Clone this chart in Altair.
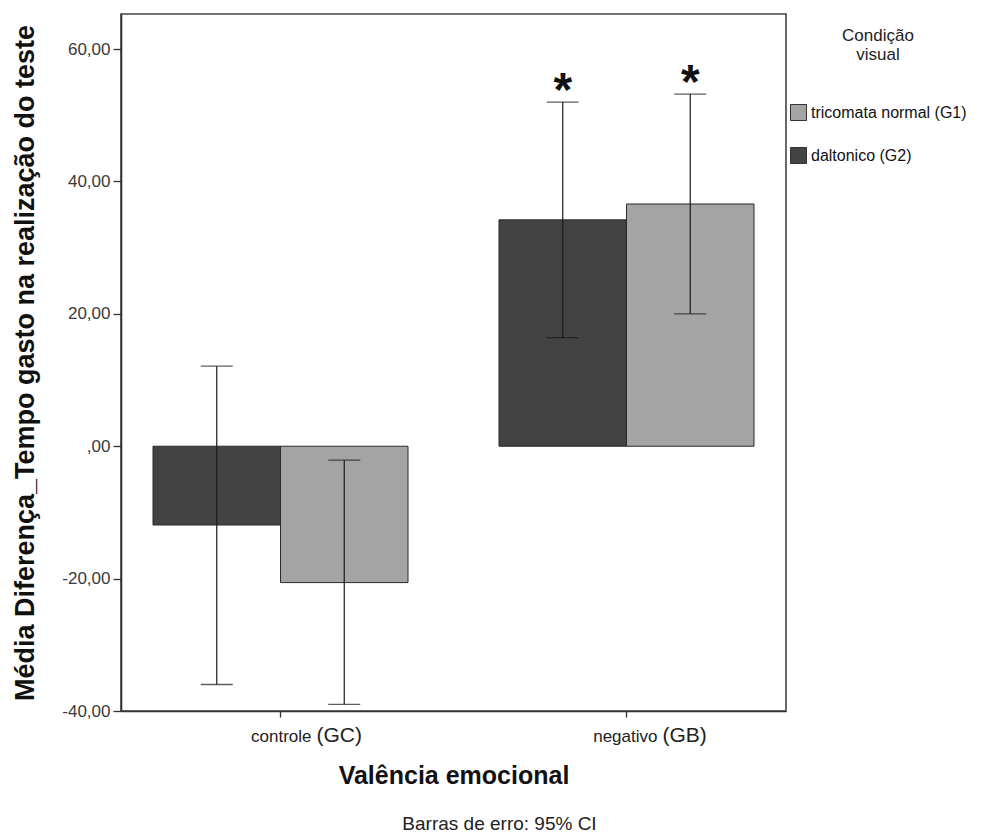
import altair as alt
import pandas as pd

# ---- data ----
valencia = ["controle", "controle", "negativo", "negativo"]
grupo = ["daltonico (G2)", "tricomata normal (G1)", "daltonico (G2)", "tricomata normal (G1)"]
media = [-11.9, -20.6, 34.2, 36.6]
ic_inf = [-36.0, -39.0, 16.4, 20.0]
ic_sup = [12.1, -2.1, 52.0, 53.2]
signif = ["", "", "*", "*"]

categorias = ["controle", "negativo"]
rotulos = ["controle", "negativo"]
codigos = ["(GC)", "(GB)"]

ordem_barras = ["daltonico (G2)", "tricomata normal (G1)"]
ordem_legenda = ["tricomata normal (G1)", "daltonico (G2)"]
cores_legenda = ["#a4a4a4", "#434343"]

y_ticks = [-40, -20, 0, 20, 40, 60]
y_dominio = [-40, 65.3]

df = pd.DataFrame(dict(valencia=valencia, grupo=grupo, media=media,
                       ic_inf=ic_inf, ic_sup=ic_sup, signif=signif))
rot = pd.DataFrame(dict(valencia=categorias, rotulo=rotulos, codigo=codigos))

W, H = 665, 697
FONT = "Liberation Sans"
YTITLE = "Média Diferença_Tempo gasto na realização do teste"
LABEL_EXPR = ("datum.value == 0 ? ',00' : "
              "replace(replace(format(datum.value, '.2f'), '.', ','), '\u2212', '-')")


def xenc():
    return alt.X(
        "valencia:N", sort=categorias,
        scale=alt.Scale(domain=categorias, paddingInner=0.263, paddingOuter=0.0925),
        axis=alt.Axis(title="Valência emocional", labels=False, ticks=True, tickSize=6,
                      tickColor="#333", tickWidth=1.3, domainColor="#333", domainWidth=1.6,
                      titleFontSize=25, titleFontWeight="bold", titleColor="#111",
                      titleY=72, titleBaseline="alphabetic"))


def xoenc():
    return alt.XOffset("grupo:N", sort=ordem_barras,
                       scale=alt.Scale(domain=ordem_barras, paddingInner=0, paddingOuter=0))


def yenc(field):
    return alt.Y(
        f"{field}:Q",
        scale=alt.Scale(domain=y_dominio, nice=False, zero=False),
        axis=alt.Axis(values=y_ticks, title=YTITLE, grid=False, tickSize=8,
                      tickColor="#333", tickWidth=1.3, domainColor="#333", domainWidth=1.6,
                      labelExpr=LABEL_EXPR,
                      labelFontSize=17, labelColor="#3a3a3a", labelPadding=3,
                      titleFontSize=27, titleFontWeight="bold", titleColor="#111",
                      titleX=-88, titleBaseline="alphabetic"))


barras = alt.Chart(df).mark_bar(stroke="#2a2a2a", strokeWidth=1).encode(
    x=xenc(), xOffset=xoenc(), y=yenc("media"), y2=alt.datum(0),
    color=alt.Color("grupo:N", scale=alt.Scale(domain=ordem_legenda, range=cores_legenda),
                    legend=alt.Legend(title=["Condição", "visual"], orient="none",
                                      legendX=669, legendY=14, padding=0,
                                      titleFontSize=17, titleFontWeight="normal",
                                      titleColor="#222", titleAlign="center",
                                      titleAnchor="middle", titleLineHeight=19,
                                      titlePadding=40, labelFontSize=16, labelColor="#111",
                                      labelOffset=4, symbolType="square", symbolSize=256,
                                      symbolStrokeColor="#333", symbolStrokeWidth=1,
                                      rowPadding=22)),
)

linhas = alt.Chart(df).mark_rule(color="#1a1a1a", strokeWidth=1.2).encode(
    x=xenc(), xOffset=xoenc(), y=yenc("ic_inf"), y2="ic_sup:Q")

cap_inf = alt.Chart(df).mark_tick(color="#1a1a1a", thickness=1.3, size=32).encode(
    x=xenc(), xOffset=xoenc(), y=yenc("ic_inf"))
cap_sup = alt.Chart(df).mark_tick(color="#1a1a1a", thickness=1.3, size=32).encode(
    x=xenc(), xOffset=xoenc(), y=yenc("ic_sup"))

asteriscos = alt.Chart(df).mark_text(fontSize=48, fontWeight="bold", baseline="alphabetic",
                                     dy=4, color="#111").encode(
    x=xenc(), xOffset=xoenc(), y=yenc("ic_sup"), text="signif:N")

rot_nome = alt.Chart(rot).mark_text(align="right", baseline="alphabetic", dx=31,
                                    fontSize=17, color="#222").encode(
    x=xenc(), y=alt.value(H + 31), text="rotulo:N")
rot_cod = alt.Chart(rot).mark_text(align="left", baseline="alphabetic", dx=36,
                                   fontSize=21, color="#222").encode(
    x=xenc(), y=alt.value(H + 31), text="codigo:N")

chart = alt.layer(barras, linhas, cap_inf, cap_sup, asteriscos, rot_nome, rot_cod).properties(
    width=W, height=H,
    title=alt.TitleParams(text="Barras de erro: 95% CI", orient="bottom", anchor="middle",
                          frame="group", dx=46, offset=27, fontSize=19,
                          fontWeight="normal", color="#222"),
    autosize=alt.AutoSizeParams(type="none"),
    padding={"left": 121, "top": 14, "right": 209, "bottom": 126},
).configure(font=FONT).configure_view(stroke="#444", strokeWidth=1.6)

chart.save("out.html", embed_options={"renderer": "svg", "actions": False})
